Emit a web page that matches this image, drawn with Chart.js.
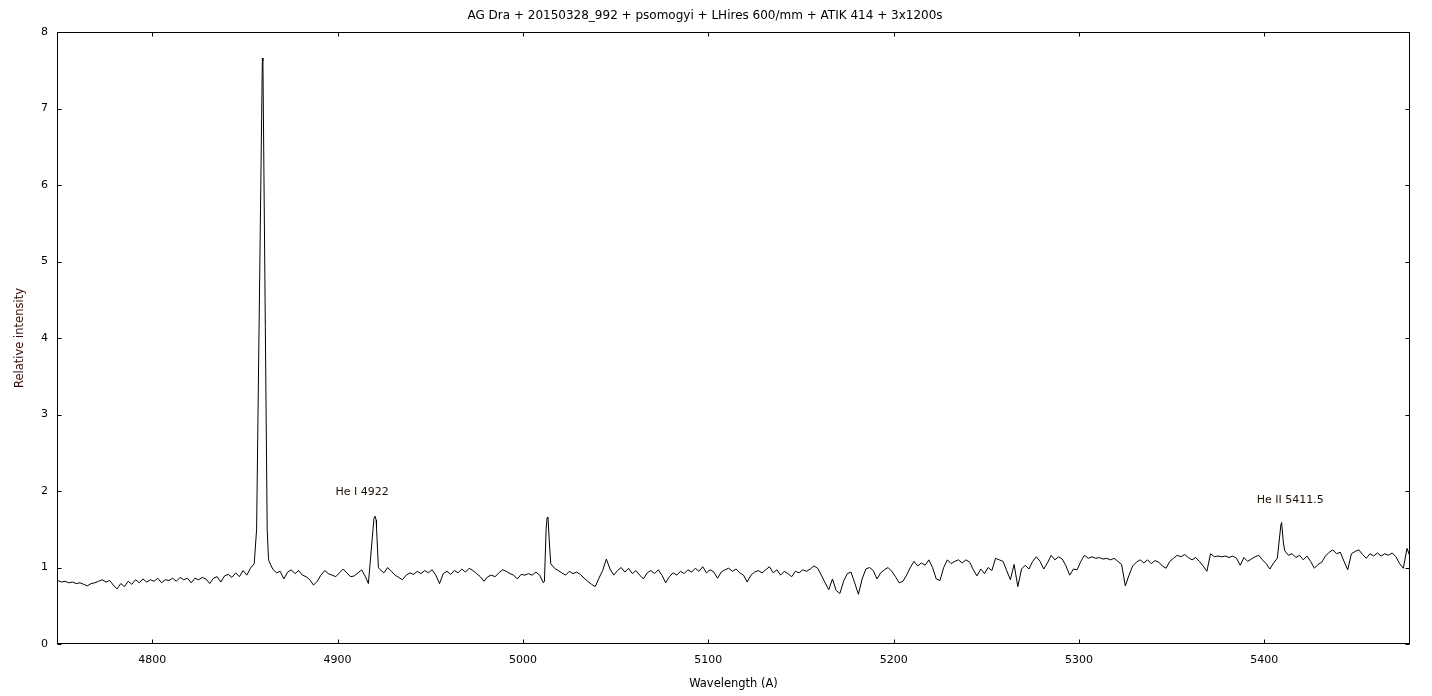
<!DOCTYPE html>
<html lang="en">
<head>
  <meta charset="UTF-8" />
  <title>AG Dra spectrum</title>
  <script src="https://cdn.jsdelivr.net/npm/chart.js"></script>
  <style>
    body { margin: 0; background: #fff; }
    canvas { display: block; }
  </style>
</head>
<body>
  <canvas id="spectrum" width="1432" height="696"></canvas>

  <script>
    // Spectrum sampled every 2 A starting at 4749 A
    const gridStart = 4749;
    const gridStep = 2;
    const intensity = [
      0.83,0.81,0.82,0.80,0.81,0.79,0.80,0.78,0.76,0.79,
      0.80,0.82,0.84,0.81,0.83,0.77,0.72,0.79,0.75,0.82,
      0.78,0.84,0.80,0.85,0.81,0.84,0.82,0.86,0.80,0.84,
      0.83,0.86,0.82,0.87,0.84,0.86,0.80,0.86,0.84,0.87,
      0.85,0.79,0.86,0.88,0.81,0.89,0.91,0.87,0.93,0.88,
      0.96,0.90,0.99,1.05,2.90,6.86,4.15,1.08,0.98,0.93,
      0.95,0.85,0.94,0.97,0.92,0.96,0.90,0.88,0.84,0.77,
      0.82,0.90,0.96,0.92,0.90,0.88,0.93,0.98,0.93,0.88,
      0.89,0.93,0.97,0.88,0.90,1.47,1.52,0.97,0.93,1.00,
      0.95,0.90,0.87,0.84,0.90,0.93,0.91,0.95,0.92,0.96,
      0.93,0.97,0.90,0.79,0.92,0.95,0.91,0.96,0.93,0.98,
      0.94,0.99,0.96,0.92,0.88,0.82,0.88,0.90,0.88,0.93,
      0.97,0.95,0.92,0.90,0.85,0.91,0.90,0.92,0.90,0.94,
      0.90,0.80,1.65,1.05,0.99,0.96,0.93,0.90,0.95,0.92,
      0.94,0.91,0.86,0.82,0.78,0.75,0.86,0.96,1.11,0.98,
      0.90,0.96,1.00,0.94,0.99,0.92,0.96,0.90,0.85,0.93,
      0.96,0.92,0.97,0.90,0.80,0.88,0.93,0.90,0.95,0.92,
      0.97,0.94,0.99,0.95,1.01,0.93,0.97,0.94,0.86,0.94,
      0.97,0.99,0.95,0.98,0.93,0.90,0.81,0.90,0.94,0.96,
      0.93,0.97,1.01,0.93,0.97,0.90,0.95,0.92,0.88,0.95,
      0.93,0.97,0.95,0.98,1.02,0.99,0.90,0.80,0.71,0.85,
      0.70,0.66,0.82,0.92,0.94,0.80,0.65,0.85,0.98,1.00,
      0.96,0.85,0.93,0.97,1.00,0.95,0.88,0.80,0.82,0.90,
      1.00,1.08,1.02,1.06,1.03,1.10,1.00,0.85,0.83,1.00,
      1.10,1.05,1.08,1.10,1.06,1.10,1.07,0.97,0.89,0.98,
      0.92,1.00,0.96,1.12,1.10,1.08,0.96,0.84,1.04,0.75,
      0.98,1.03,0.98,1.08,1.14,1.08,0.98,1.06,1.16,1.10,
      1.14,1.11,1.02,0.90,0.98,0.97,1.08,1.16,1.12,1.14,
      1.12,1.13,1.11,1.12,1.10,1.12,1.08,1.04,0.76,0.90,
      1.02,1.07,1.10,1.06,1.10,1.05,1.09,1.07,1.02,0.99,
      1.08,1.12,1.16,1.14,1.17,1.13,1.10,1.13,1.08,1.02,
      0.95,1.18,1.14,1.15,1.14,1.15,1.13,1.15,1.12,1.03,
      1.13,1.08,1.11,1.14,1.16,1.10,1.05,0.98,1.06,1.12,
      1.57,1.22,1.16,1.18,1.13,1.16,1.10,1.15,1.08,0.99,
      1.04,1.07,1.15,1.20,1.23,1.18,1.20,1.08,0.97,1.18,
      1.21,1.23,1.17,1.12,1.18,1.15,1.19,1.15,1.18,1.16,
      1.19,1.14,1.05,0.99,1.25,1.12
    ];

    // extra samples across the narrow emission lines
    const peakWl = [4856.3, 4859.4, 4859.7, 4862.0, 4862.7,
                    4916.6, 4919.6, 4920.2, 4920.8, 4922.0,
                    5011.6, 5012.5, 5013.5, 5014.2,
                    5409.3, 5410.3];
    const peakI = [1.50, 7.66, 7.62, 1.50, 1.12,
                   0.79, 1.64, 1.67, 1.62, 1.00,
                   0.82, 1.50, 1.66, 1.35,
                   1.59, 1.32];

    // line identifications
    const labelText = ["He I 4922", "He II 5411.5"];
    const labelWl = [4913.2, 5414.0];
    const labelLevel = [1.99, 1.88];

    const xTicksStep = 100;
    const yTicksStep = 1;

    const points = intensity.map((v, i) => ({ x: gridStart + i * gridStep, y: v }));
    peakWl.forEach((w, i) => points.push({ x: w, y: peakI[i] }));
    points.sort((a, b) => a.x - b.x);

    const FONT = '"DejaVu Sans", Verdana, sans-serif';

    const framePlugin = {
      id: "frame",
      afterDraw(chart) {
        const { ctx, chartArea: a, scales: { x, y } } = chart;
        ctx.save();
        ctx.strokeStyle = "#000";
        ctx.lineWidth = 1;
        const L = Math.round(a.left) + 0.5, R = Math.round(a.right) - 0.5;
        const T = Math.round(a.top) + 0.5, B = Math.round(a.bottom) - 0.5;
        ctx.strokeRect(L, T, R - L, B - T);
        ctx.beginPath();
        x.ticks.forEach(t => {
          const px = Math.round(x.getPixelForValue(t.value)) + 0.5;
          ctx.moveTo(px, B); ctx.lineTo(px, B - 4);
          ctx.moveTo(px, T); ctx.lineTo(px, T + 4);
        });
        y.ticks.forEach(t => {
          const py = Math.round(y.getPixelForValue(t.value)) + 0.5;
          ctx.moveTo(L, py); ctx.lineTo(L + 4, py);
          ctx.moveTo(R, py); ctx.lineTo(R - 4, py);
        });
        ctx.stroke();

        ctx.fillStyle = "#1a1000";
        ctx.font = "11px " + FONT;
        ctx.textAlign = "center";
        ctx.textBaseline = "middle";
        labelText.forEach((txt, i) => {
          ctx.fillText(txt, x.getPixelForValue(labelWl[i]), y.getPixelForValue(labelLevel[i]));
        });
        ctx.restore();
      }
    };

    new Chart(document.getElementById("spectrum"), {
      type: "line",
      data: {
        datasets: [{
          data: points,
          borderColor: "#000",
          borderWidth: 1,
          pointRadius: 0,
          tension: 0,
          fill: false
        }]
      },
      plugins: [framePlugin],
      options: {
        responsive: false,
        animation: false,
        devicePixelRatio: 1,
        layout: { padding: { left: 0, right: 22, top: 0, bottom: 0 } },
        plugins: {
          legend: { display: false },
          tooltip: { enabled: false },
          title: {
            display: true,
            text: "AG Dra + 20150328_992 + psomogyi + LHires 600/mm + ATIK 414 + 3x1200s",
            color: "#000",
            font: { family: FONT, size: 12, weight: "normal" },
            padding: { top: 9, bottom: 8.6 }
          }
        },
        scales: {
          x: {
            type: "linear",
            min: 4748.6,
            max: 5478.6,
            grid: { display: false, drawTicks: false },
            border: { display: false },
            ticks: {
              stepSize: xTicksStep,
              includeBounds: false,
              padding: 10,
              color: "#000",
              maxRotation: 0,
              font: { family: FONT, size: 11 },
              callback: v => String(v)
            },
            title: {
              display: true,
              text: "Wavelength (A)",
              color: "#000",
              font: { family: FONT, size: 11.5 },
              padding: { top: 0, bottom: 5 }
            },
            afterFit(scale) { scale.height = 52; }
          },
          y: {
            min: 0,
            max: 8,
            grid: { display: false, drawTicks: false },
            border: { display: false },
            ticks: {
              stepSize: yTicksStep,
              padding: 9,
              color: "#000",
              font: { family: FONT, size: 11 }
            },
            title: {
              display: true,
              text: "Relative intensity",
              color: "#3a0a0a",
              font: { family: FONT, size: 11.5 },
              padding: { top: 13, bottom: 0 }
            },
            afterFit(scale) { scale.width = 57; }
          }
        }
      }
    });
  </script>
</body>
</html>
